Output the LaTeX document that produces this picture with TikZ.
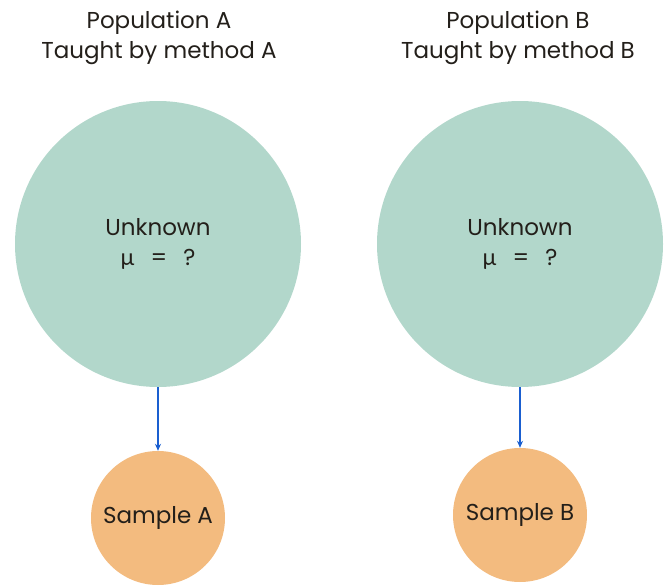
\documentclass[tikz,border=0pt]{standalone}
\usepackage{fontspec}
\setmainfont{Poppins}
\newfontfamily\greekfont{Lato}
\usetikzlibrary{arrows.meta, positioning}
\definecolor{popTeal}{HTML}{B2D7CB}
\definecolor{sampOrange}{HTML}{F3BB7F}
\definecolor{arrowBlue}{HTML}{1A5FD0}
\definecolor{textDark}{HTML}{231F1A}

\begin{document}
\begin{tikzpicture}[
x=1pt, y=-1pt,
title/.style={align=center, text=textDark, font=\fontsize{23}{30}\selectfont},
popcircle/.style={circle, fill=popTeal, minimum size=286pt, inner sep=0pt, align=center, text=textDark, font=\fontsize{23}{30}\selectfont},
sampcircle/.style={circle, fill=sampOrange, minimum size=134pt, inner sep=0pt, align=center, text=textDark, font=\fontsize{23}{26}\selectfont},
arrow/.style={-{Stealth[length=7pt, width=6pt]}, arrowBlue, line width=1.4pt}
]
\useasboundingbox (0,0) rectangle (667,586);

\node[title] (titleA) at (159,38) {Population A\\Taught by method A};
\node[title] (titleB) at (518,38) {Population B\\Taught by method B};

\node[popcircle] (popA) at (158,244) {Unknown\\{\greekfont μ}\hspace{0.7em}=\hspace{0.7em}?};
\node[popcircle] (popB) at (520,244) {Unknown\\{\greekfont μ}\hspace{0.7em}=\hspace{0.7em}?};

\node[sampcircle] (sampA) at (158,518) {Sample A};
\node[sampcircle] (sampB) at (520,515) {Sample B};

\draw[arrow] (popA.south) -- (sampA.north);
\draw[arrow] (popB.south) -- (sampB.north);
\end{tikzpicture}
\end{document}
